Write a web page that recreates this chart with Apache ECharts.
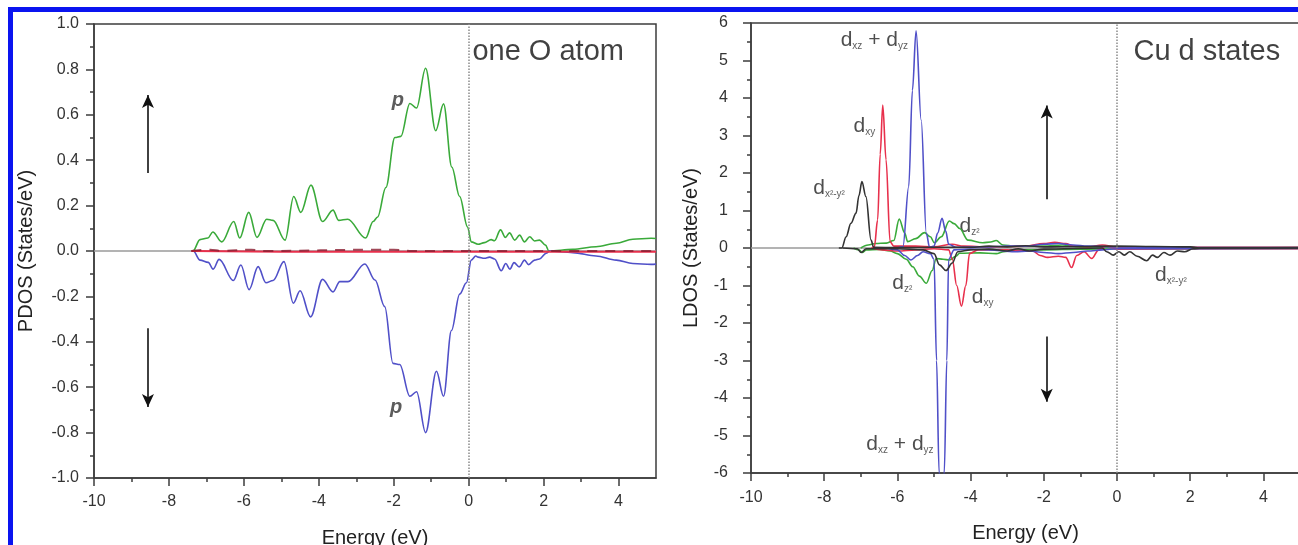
<!DOCTYPE html>
<html><head><meta charset="utf-8">
<script src="https://cdn.jsdelivr.net/npm/echarts@6/dist/echarts.min.js"></script>
<style>html,body{margin:0;padding:0;background:#fff;}#c{width:1298px;height:545px;}</style>
</head><body><div id="c"></div>
<script>
// ---------- data ----------
const energyTicks = [-10,-8,-6,-4,-2,0,2,4];
const energyMinor = [-9,-7,-5,-3,-1,1,3];
const zeroLine = [[-10,0],[5,0]];

// Left panel: one O atom PDOS
const oPUp = [[-7.4,0],[-7.36,0.0],[-7.17,0.05],[-6.96,0.057],[-6.83,0.084],[-6.59,0.04],[-6.27,0.13],[-6.11,0.057],[-5.87,0.17],[-5.65,0.06],[-5.39,0.14],[-5.22,0.135],[-4.9,0.048],[-4.67,0.24],[-4.48,0.17],[-4.21,0.29],[-3.9,0.13],[-3.62,0.18],[-3.47,0.135],[-3.23,0.14],[-2.75,0.057],[-2.55,0.13],[-2.43,0.15],[-2.21,0.28],[-1.97,0.5],[-1.81,0.505],[-1.57,0.65],[-1.39,0.63],[-1.15,0.805],[-0.88,0.53],[-0.67,0.648],[-0.45,0.37],[-0.24,0.24],[-0.03,0.106],[0.07,0.04],[0.25,0.03],[0.42,0.037],[0.6,0.05],[0.69,0.045],[0.85,0.093],[0.98,0.06],[1.09,0.08],[1.23,0.048],[1.36,0.07],[1.49,0.04],[1.63,0.063],[1.76,0.044],[1.89,0.048],[2.05,0.026],[2.14,0.0],[2.78,0.007],[3.4,0.019],[3.94,0.034],[4.38,0.052],[4.87,0.056],[5,0.055]];
const oPDown = [[-7.4,0],[-7.35,0],[-7.17,-0.04],[-6.95,-0.05],[-6.82,-0.08],[-6.66,-0.037],[-6.28,-0.13],[-6.08,-0.062],[-5.86,-0.17],[-5.62,-0.069],[-5.41,-0.14],[-5.22,-0.13],[-4.93,-0.047],[-4.68,-0.23],[-4.5,-0.175],[-4.22,-0.29],[-3.9,-0.125],[-3.62,-0.18],[-3.44,-0.135],[-3.22,-0.135],[-2.77,-0.057],[-2.5,-0.128],[-2.24,-0.245],[-2.02,-0.495],[-1.84,-0.5],[-1.57,-0.64],[-1.39,-0.62],[-1.15,-0.8],[-0.86,-0.53],[-0.67,-0.64],[-0.46,-0.35],[-0.24,-0.19],[-0.06,-0.14],[0.07,-0.04],[0.19,-0.022],[0.25,-0.027],[0.42,-0.032],[0.56,-0.027],[0.69,-0.035],[0.87,-0.087],[0.99,-0.055],[1.1,-0.08],[1.21,-0.051],[1.35,-0.07],[1.49,-0.04],[1.6,-0.06],[1.76,-0.04],[1.89,-0.035],[2.07,-0.01],[2.16,0],[2.78,-0.007],[3.4,-0.022],[3.94,-0.04],[4.38,-0.055],[4.87,-0.059],[5,-0.058]];
const oS = [[-7.4,0],[-5,-0.003],[-2,-0.003],[0,-0.003],[2,-0.003],[5,-0.003]];
const oD = [[-7.4,0],[-6.9,0.006],[-6.6,0],[-5.8,0.006],[-5.5,0],[-2.4,0.006],[-2.0,0.005],[-1.5,0],[5,0]];

// Right panel: Cu d states LDOS
const dx2y2Up = [[-7.6,0],[-7.52,0],[-7.4,0.3],[-7.27,0.66],[-7.13,0.93],[-7.05,1.4],[-6.97,1.77],[-6.86,1.37],[-6.72,0.21],[-6.65,0.02],[-6.0,0.01],[-5.0,0.02],[-4.0,0.02],[-3.5,0.05],[-3.0,0.03],[-2.5,0.06],[-2.0,0.03],[-1.0,0.04],[0,0.05],[1,0.04],[2,0.03],[2.3,0],[5,0]];
const dx2y2Down = [[-7.5,0],[-7.1,-0.02],[-6.99,-0.12],[-6.85,-0.02],[-6.0,-0.02],[-5.3,-0.05],[-5.0,-0.15],[-4.85,-0.45],[-4.67,-0.6],[-4.5,-0.4],[-4.35,-0.1],[-4.0,-0.05],[-3.5,-0.03],[-3.0,-0.08],[-2.7,-0.02],[-2.4,-0.08],[-2.0,-0.03],[-0.4,0],[-0.28,-0.1],[-0.1,-0.19],[0.05,-0.1],[0.2,-0.19],[0.35,-0.1],[0.55,-0.22],[0.81,-0.34],[0.97,-0.19],[1.1,-0.25],[1.28,-0.12],[1.45,-0.19],[1.65,-0.08],[1.85,-0.1],[2.08,-0.02],[2.3,0],[5,0]];
const dxyUp = [[-6.7,0],[-6.63,0.03],[-6.54,0.75],[-6.47,2.5],[-6.4,3.81],[-6.31,2.35],[-6.2,0.17],[-6.1,0.05],[-5.5,0.05],[-5.0,0.03],[-4.5,0.1],[-4.2,0.05],[-3.5,0.03],[-2.5,0.05],[-2.0,0.12],[-1.7,0.15],[-1.4,0.12],[-1.2,0.05],[-0.8,0.03],[-0.4,0.08],[0,0.03],[2,0.02],[5,0.02]];
const dxyDown = [[-6.7,0],[-6.4,-0.05],[-6.0,-0.08],[-5.5,-0.05],[-5.0,-0.02],[-4.6,-0.05],[-4.5,-0.3],[-4.38,-1.0],[-4.25,-1.55],[-4.13,-1.0],[-4.03,-0.15],[-3.8,-0.05],[-3.0,-0.05],[-2.3,-0.08],[-2.1,-0.2],[-1.9,-0.25],[-1.6,-0.22],[-1.4,-0.25],[-1.24,-0.52],[-1.1,-0.2],[-0.9,-0.1],[-0.69,-0.28],[-0.5,-0.05],[-0.3,0.05],[0,-0.03],[2,-0.02],[5,-0.02]];
const dz2Up = [[-7.0,0],[-6.8,0.08],[-6.6,0.12],[-6.3,0.13],[-6.1,0.2],[-5.95,0.77],[-5.8,0.4],[-5.72,0.17],[-5.5,0.25],[-5.26,0.41],[-5.1,0.3],[-4.99,0.14],[-4.8,0.3],[-4.58,0.72],[-4.45,0.65],[-4.3,0.52],[-4.07,0.21],[-3.67,0.14],[-3.45,0.16],[-3.3,0.2],[-3.12,0.08],[-2.8,0.05],[-2.0,0.05],[-1.5,0.08],[-1.0,0.03],[0,0.02],[2,0.01],[3.5,0.01],[5,0.02]];
const dz2Down = [[-7.2,0],[-7.05,-0.05],[-6.96,-0.12],[-6.85,-0.05],[-6.5,-0.04],[-6.2,-0.08],[-6.0,-0.15],[-5.76,-0.3],[-5.58,-0.5],[-5.4,-0.75],[-5.21,-0.94],[-5.05,-0.6],[-4.94,-0.28],[-4.75,-0.3],[-4.58,-0.32],[-4.4,-0.22],[-4.3,-0.14],[-3.74,-0.13],[-3.3,-0.15],[-3.1,-0.1],[-2.8,-0.05],[-2.0,-0.05],[-1.0,-0.03],[0,-0.02],[5,-0.01]];
const dxzyzUp = [[-6.0,0],[-5.85,0.03],[-5.69,1.64],[-5.59,4.2],[-5.49,5.79],[-5.35,3.41],[-5.21,0.39],[-5.12,0.02],[-5.0,0.05],[-4.9,0.4],[-4.78,0.79],[-4.68,0.45],[-4.6,0.1],[-4.4,0.02],[-3.5,0.03],[-3.0,0.05],[-2.5,0.05],[-2.0,0.1],[-1.6,0.12],[-1.2,0.08],[-0.8,0.05],[0,0.03],[2,0.01],[5,0.01]];
const dxzyzDown = [[-6.3,0],[-6.0,-0.05],[-5.8,-0.2],[-5.63,-0.32],[-5.45,-0.2],[-5.3,-0.1],[-5.1,-0.15],[-5.0,-0.3],[-4.93,-3.0],[-4.86,-6.0],[-4.8,-6.8],[-4.72,-6.0],[-4.65,-3.0],[-4.6,-0.3],[-4.45,-0.05],[-4.0,-0.03],[-3.5,-0.05],[-2.8,-0.1],[-2.4,-0.08],[-2.0,-0.12],[-1.6,-0.15],[-1.2,-0.12],[-0.8,-0.08],[-0.4,-0.05],[0,-0.02],[5,-0.01]];

// annotations (data coordinates)
const leftArrows = [[[-8.56,0.344],[-8.56,0.687]],[[-8.56,-0.34],[-8.56,-0.687]]];
const rightArrows = [[[-1.92,1.3],[-1.92,3.8]],[[-1.92,-2.36],[-1.92,-4.1]]];
const leftTexts = [{v:[-2.05,0.665],t:'{i|p}'},{v:[-2.1,-0.69],t:'{i|p}'},{v:[0.1,0.876],t:'{big|one O atom}'}];
const rightTexts = [
  {v:[-7.55,5.55],t:'{d|d}{s|xz}{d| + d}{s|yz}'},
  {v:[-7.2,3.25],t:'{d|d}{s|xy}'},
  {v:[-8.3,1.6],t:'{d|d}{s|x²-y²}'},
  {v:[-4.3,0.59],t:'{d|d}{s|z²}'},
  {v:[-6.14,-0.93],t:'{d|d}{s|z²}'},
  {v:[-3.97,-1.31],t:'{d|d}{s|xy}'},
  {v:[-6.85,-5.23],t:'{d|d}{s|xz}{d| + d}{s|yz}'},
  {v:[1.04,-0.72],t:'{d|d}{s|x²-y²}'},
  {v:[0.45,5.23],t:'{big|Cu d states}'}
];

// ---------- chart ----------
const FONT = 'Liberation Sans, Arial, sans-serif';
const GREEN = '#3aaa3a', BLUE = '#5050c8', RED = '#e8304c', BLACK = '#333333';
const richStyles = {
  d:{fontSize:21,fontFamily:FONT,color:'#222',lineHeight:22},
  s:{fontSize:10,fontFamily:FONT,color:'#333',lineHeight:10,verticalAlign:'bottom'},
  i:{fontSize:20,fontFamily:FONT,fontStyle:'italic',fontWeight:'bold',color:'#333'},
  big:{fontSize:29,fontFamily:FONT,color:'#111'}
};
function xMain(grid){
  return {type:'value',gridIndex:grid,min:-10,max:5,position:'bottom',
    name:'Energy (eV)',nameLocation:'middle',nameGap:grid===0?50:50,
    nameTextStyle:{fontFamily:FONT,fontSize:20,color:'#222'},
    axisLine:{show:true,onZero:false,lineStyle:{color:'#3c3c3c',width:1.5}},
    axisTick:{show:true,customValues:energyTicks,length:8,lineStyle:{color:'#3c3c3c',width:1.5}},
    axisLabel:{show:true,customValues:energyTicks,margin:grid===0?16:17,fontFamily:FONT,fontSize:16,color:'#333'},
    splitLine:{show:false}};
}
function xMinor(grid){
  return {type:'value',gridIndex:grid,min:-10,max:5,position:'bottom',offset:0,
    axisLine:{show:false,onZero:false},
    axisTick:{show:true,customValues:energyMinor,length:4,lineStyle:{color:'#3c3c3c',width:1.5}},
    axisLabel:{show:false},splitLine:{show:false}};
}
function yAx(grid,min,max,interval,name,gap,fmt,margin){
  return {type:'value',gridIndex:grid,min:min,max:max,interval:interval,
    name:name,nameLocation:'middle',nameGap:gap,
    nameTextStyle:{fontFamily:FONT,fontSize:20,color:'#222'},
    axisLine:{show:true,onZero:false,lineStyle:{color:'#3c3c3c',width:1.5}},
    axisTick:{show:true,length:8,lineStyle:{color:'#3c3c3c',width:1.5}},
    minorTick:{show:true,splitNumber:2,length:4,lineStyle:{color:'#3c3c3c',width:1.5}},
    axisLabel:{formatter:fmt,margin:margin,fontFamily:FONT,fontSize:16,color:'#333'},
    splitLine:{show:false},minorSplitLine:{show:false}};
}
function curve(name,data,color,xi,yi,extra){
  return Object.assign({type:'line',name:name,data:data,xAxisIndex:xi,yAxisIndex:yi,
    showSymbol:false,symbol:'none',smooth:0.35,smoothMonotone:'x',clip:true,
    lineStyle:{color:color,width:1.6},silent:true,animation:false},extra||{});
}
function arrowSeries(list,xi,yi){
  return {type:'line',data:[],xAxisIndex:xi,yAxisIndex:yi,silent:true,animation:false,
    markLine:{silent:true,animation:false,symbol:['none','arrow'],symbolSize:[9,13],
      label:{show:false},lineStyle:{color:'#111',width:1.6,type:'solid'},
      data:list.map(p=>[{coord:p[0]},{coord:p[1]}])}};
}
function textSeries(list,xi,yi){
  return {type:'scatter',xAxisIndex:xi,yAxisIndex:yi,symbolSize:0,silent:true,animation:false,
    data:list.map(o=>({value:o.v,label:{formatter:o.t}})),
    label:{show:true,position:'right',distance:0,rich:richStyles}};
}
function zeroSeries(xi,yi){
  return curve('zero',zeroLine,'#9a9a9a',xi,yi,{smooth:false,lineStyle:{color:'#9a9a9a',width:1.6},
    markLine:{silent:true,animation:false,symbol:'none',label:{show:false},
      lineStyle:{color:'#8a8a8a',type:'dotted',width:1.5},data:[{xAxis:0}]}});
}

const chart = echarts.init(document.getElementById('c'),null,{renderer:'canvas'});
chart.setOption({
  animation:false,
  backgroundColor:'#ffffff',
  grid:[
    {left:94,top:24,width:562,height:454,show:true,borderColor:'#3c3c3c',borderWidth:1.5,backgroundColor:'transparent',containLabel:false,outerBoundsMode:'none'},
    {left:751,top:23,width:549,height:450,show:true,borderColor:'#3c3c3c',borderWidth:1.5,backgroundColor:'transparent',containLabel:false,outerBoundsMode:'none'}
  ],
  xAxis:[xMain(0),xMain(1),xMinor(0),xMinor(1)],
  yAxis:[
    yAx(0,-1,1,0.2,'PDOS (States/eV)',58,v=>v.toFixed(1),15),
    yAx(1,-6,6,1,'LDOS (States/eV)',50,v=>String(v),23)
  ],
  graphic:[
    {type:'rect',shape:{x:8,y:7,width:1290,height:5},style:{fill:'#0a14f0'},z:100},
    {type:'rect',shape:{x:8,y:7,width:5,height:538},style:{fill:'#0a14f0'},z:100}
  ],
  series:[
    zeroSeries(0,0),
    curve('O p up',oPUp,GREEN,0,0),
    curve('O p down',oPDown,BLUE,0,0),
    curve('O s',oS,RED,0,0,{smooth:false,lineStyle:{color:RED,width:2}}),
    curve('O d',oD,'#8a1c30',0,0,{lineStyle:{color:'#8a1c30',width:2,type:[10,8],opacity:0.8}}),
    arrowSeries(leftArrows,0,0),
    textSeries(leftTexts,0,0),

    zeroSeries(1,1),
    curve('dz2 up',dz2Up,GREEN,1,1),
    curve('dz2 down',dz2Down,GREEN,1,1),
    curve('dxy up',dxyUp,RED,1,1),
    curve('dxy down',dxyDown,RED,1,1),
    curve('dxz+dyz up',dxzyzUp,BLUE,1,1),
    curve('dxz+dyz down',dxzyzDown,BLUE,1,1),
    curve('dx2-y2 up',dx2y2Up,BLACK,1,1),
    curve('dx2-y2 down',dx2y2Down,BLACK,1,1),
    arrowSeries(rightArrows,1,1),
    textSeries(rightTexts,1,1)
  ]
});
</script></body></html>
